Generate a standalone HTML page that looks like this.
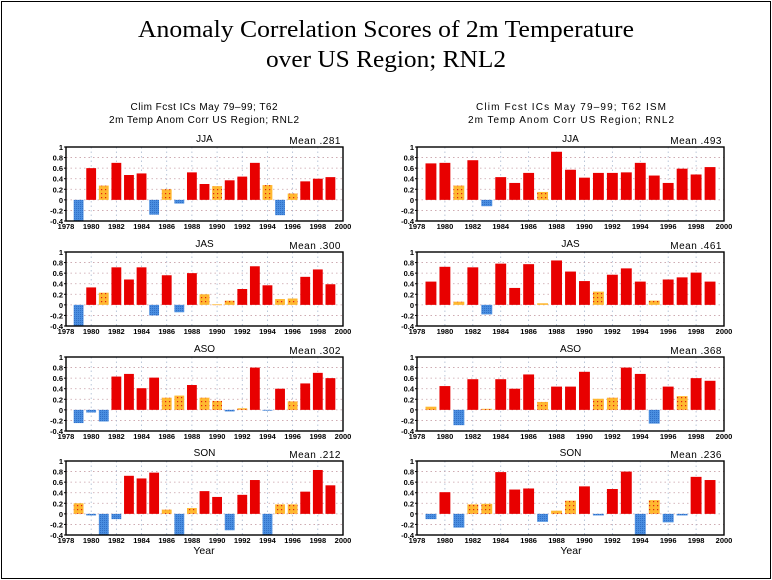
<!DOCTYPE html>
<html><head><meta charset="utf-8">
<style>
html,body{margin:0;padding:0;background:#fff;}
svg{display:block;}
</style></head>
<body>
<svg id="chart" width="772" height="580" viewBox="0 0 772 580" xmlns="http://www.w3.org/2000/svg">
<defs>
<pattern id="dots" width="4" height="4" patternUnits="userSpaceOnUse"><rect width="4" height="4" fill="#ffb830"/><rect x="1" y="1" width="1.2" height="1.2" fill="#e02010"/></pattern>
<pattern id="bdots" width="2" height="2" patternUnits="userSpaceOnUse"><rect width="2" height="2" fill="#4a8ee0"/><rect x="0" y="0" width="1" height="1" fill="#3070c8"/></pattern>
</defs>
<rect x="1.5" y="1.5" width="769" height="577" fill="none" stroke="#000" stroke-width="1"/>
<text x="386" y="37" text-anchor="middle" font-family="Liberation Serif, serif" font-size="24" textLength="496" lengthAdjust="spacingAndGlyphs">Anomaly Correlation Scores of 2m Temperature</text>
<text x="386" y="67" text-anchor="middle" font-family="Liberation Serif, serif" font-size="24" textLength="240" lengthAdjust="spacingAndGlyphs">over US Region; RNL2</text>
<text x="204" y="110" text-anchor="middle" font-family="Liberation Sans, sans-serif" font-size="10" textLength="147" lengthAdjust="spacing">Clim Fcst ICs May 79–99; T62</text>
<text x="204" y="123" text-anchor="middle" font-family="Liberation Sans, sans-serif" font-size="10" textLength="190" lengthAdjust="spacing">2m Temp Anom Corr US Region; RNL2</text>
<text x="571" y="110" text-anchor="middle" font-family="Liberation Sans, sans-serif" font-size="10" textLength="190" lengthAdjust="spacing">Clim Fcst ICs May 79–99; T62 ISM</text>
<text x="571" y="123" text-anchor="middle" font-family="Liberation Sans, sans-serif" font-size="10" textLength="206" lengthAdjust="spacing">2m Temp Anom Corr US Region; RNL2</text>
<text x="204" y="554" text-anchor="middle" font-family="Liberation Sans, sans-serif" font-size="10.5">Year</text>
<text x="571" y="554" text-anchor="middle" font-family="Liberation Sans, sans-serif" font-size="10.5">Year</text>
</svg>
<script>
const years = [1979,1980,1981,1982,1983,1984,1985,1986,1987,1988,1989,1990,1991,1992,1993,1994,1995,1996,1997,1998,1999];
const yTicks = [1,0.8,0.6,0.4,0.2,0,-0.2,-0.4];
const yTickLabels = ["1","0.8","0.6","0.4","0.2","0","-0.2","-0.4"];
const xTicks = [1978,1980,1982,1984,1986,1988,1990,1992,1994,1996,1998,2000];
const seasons = ["JJA","JAS","ASO","SON"];
const leftMeans = [".281",".300",".302",".212"];
const rightMeans = [".493",".461",".368",".236"];
const leftJJA = [-0.45,0.60,0.27,0.70,0.47,0.50,-0.28,0.20,-0.07,0.52,0.30,0.26,0.37,0.44,0.70,0.28,-0.29,0.12,0.35,0.40,0.43];
const leftJAS = [-0.45,0.33,0.23,0.71,0.48,0.71,-0.20,0.56,-0.14,0.60,0.20,0.01,0.08,0.30,0.73,0.37,0.11,0.12,0.53,0.67,0.39];
const leftASO = [-0.25,-0.05,-0.22,0.63,0.68,0.41,0.61,0.23,0.27,0.47,0.23,0.17,-0.03,0.03,0.80,-0.01,0.40,0.16,0.50,0.70,0.60];
const leftSON = [0.20,-0.03,-0.45,-0.10,0.72,0.67,0.78,0.08,-0.45,0.11,0.43,0.32,-0.31,0.36,0.64,-0.45,0.18,0.18,0.42,0.83,0.54];
const rightJJA = [0.69,0.70,0.27,0.75,-0.12,0.43,0.32,0.51,0.15,0.91,0.57,0.42,0.51,0.51,0.52,0.70,0.46,0.32,0.59,0.48,0.62];
const rightJAS = [0.44,0.72,0.06,0.71,-0.18,0.78,0.32,0.77,0.03,0.84,0.63,0.45,0.25,0.57,0.69,0.44,0.08,0.48,0.52,0.61,0.44];
const rightASO = [0.06,0.45,-0.29,0.58,0.02,0.58,0.40,0.67,0.15,0.44,0.44,0.72,0.21,0.23,0.80,0.68,-0.26,0.44,0.26,0.60,0.55];
const rightSON = [-0.10,0.41,-0.26,0.18,0.19,0.79,0.46,0.48,-0.15,0.06,0.25,0.52,-0.03,0.47,0.80,-0.45,0.26,-0.16,-0.03,0.70,0.64];

const svg = document.getElementById('chart');
const NS = 'http://www.w3.org/2000/svg';
function mk(tag, attrs, parent){
  const e = document.createElementNS(NS, tag);
  for (const k in attrs) e.setAttribute(k, attrs[k]);
  (parent||svg).appendChild(e);
  return e;
}
const tops = [147, 252, 357, 461];
const H = 74;
function panel(x0, x1, top, vals, season, mean, side){
  const g = mk('g', {});
  
  
  const xs = y => x0 + (y - 1978) / 22 * (x1 - x0);
  const ys = v => top + (1 - v) / 1.4 * H;
  const yw = (x1 - x0) / 22;
  yTicks.forEach(t => {
    if (t === 1 || t === -0.4) return;
    const l = mk('line', {x1:x0, x2:x1, y1:ys(t), y2:ys(t), stroke:'#c8a0a8', 'stroke-width':0.8, 'stroke-dasharray':'1.5,3'}, g);
    
    
  });
  xTicks.forEach(t => {
    if (t === 1978 || t === 2000) return;
    const l = mk('line', {x1:xs(t), x2:xs(t), y1:top, y2:top+H, stroke:'#a8b8d0', 'stroke-width':0.8, 'stroke-dasharray':'1.5,3'}, g);
    
    
  });
  vals.forEach((v, i) => {
    const vc = Math.max(-0.4, Math.min(1, v));
    const y0 = ys(0), y1 = ys(vc);
    const fill = v >= 0.3 ? '#e80000' : (v >= 0 ? 'url(#dots)' : 'url(#bdots)');
    const bw = yw * 0.78;
    const r = mk('rect', {x: xs(years[i]) - bw/2, y: Math.min(y0, y1), width: bw, height: Math.max(0.8, Math.abs(y1 - y0)), fill: fill}, g);
    
    
  });
  const f = mk('rect', {x:x0, y:top, width:x1-x0, height:H, fill:'none', stroke:'#000', 'stroke-width':1.4}, g);
  
  
  yTicks.forEach((t, i) => {
    const tx = mk('text', {x:x0-3, y:ys(t)+3, 'text-anchor':'end', 'font-family':'Liberation Sans, sans-serif', 'font-size':7.5, 'font-weight':'bold'}, g);
    tx.textContent = yTickLabels[i];
    
    
    const tk = mk('line', {x1:x0-2, x2:x0, y1:ys(t), y2:ys(t), stroke:'#000', 'stroke-width':1}, g);
    
    
  });
  xTicks.forEach(t => {
    const tx = mk('text', {x:xs(t), y:top+H+8, 'text-anchor':'middle', 'font-family':'Liberation Sans, sans-serif', 'font-size':7.5, 'font-weight':'bold'}, g);
    tx.textContent = String(t);
    
    
  });
  const st = mk('text', {x:(x0+x1)/2, y:top-5, 'text-anchor':'middle', 'font-family':'Liberation Sans, sans-serif', 'font-size':10}, g);
  st.textContent = season;
  
  
  const mt = mk('text', {x:x1-2, y:top-3, 'text-anchor':'end', 'font-family':'Liberation Sans, sans-serif', 'font-size':10, 'letter-spacing':'0.5'}, g);
  mt.textContent = 'Mean  ' + mean;
  
  
}
const leftData = [leftJJA, leftJAS, leftASO, leftSON];
const rightData = [rightJJA, rightJAS, rightASO, rightSON];
for (let i = 0; i < 4; i++) {
  panel(66, 343, tops[i], leftData[i], seasons[i], leftMeans[i], 'left');
  panel(417, 724, tops[i], rightData[i], seasons[i], rightMeans[i], 'right');
}
</script>
</body></html>
